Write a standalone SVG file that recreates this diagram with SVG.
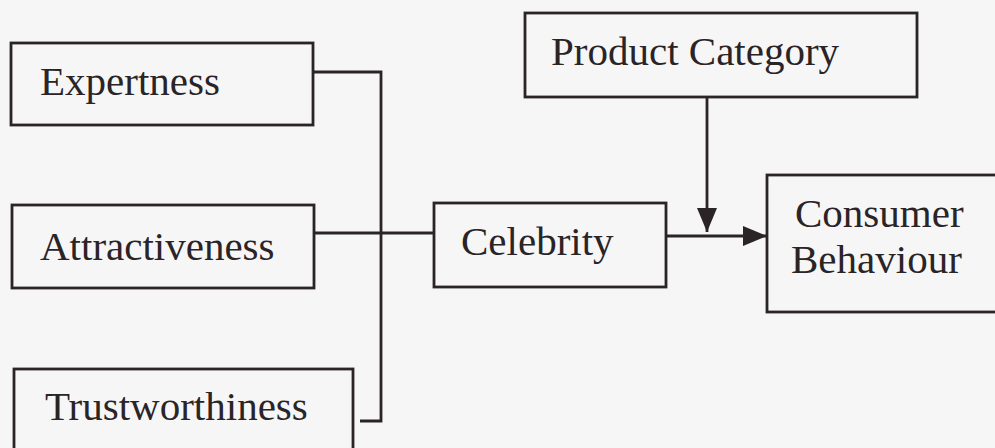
<svg xmlns="http://www.w3.org/2000/svg" width="995" height="448" viewBox="0 0 995 448">
  <defs>
    <style>
      .box { fill: none; stroke: #2a2427; stroke-width: 2.8; }
      .lbl { font-family: "Liberation Serif", "Times New Roman", serif; font-size: 41px; fill: #2a2427; }
      .con { fill: none; stroke: #2a2427; stroke-width: 2.8; }
    </style>
    <marker id="arr" viewBox="0 0 24 20" refX="24" refY="10" markerWidth="24" markerHeight="20" markerUnits="userSpaceOnUse" orient="auto">
      <path d="M0,0 L24,10 L0,20 Z" fill="#2a2427"/>
    </marker>
  </defs>
  <rect width="995" height="448" fill="#f6f6f6"/>

  <g id="expertness">
    <rect class="box" x="11" y="43" width="302" height="82"/>
    <text class="lbl" x="40" y="95">Expertness</text>
  </g>
  <g id="attractiveness">
    <rect class="box" x="12" y="205" width="302" height="83"/>
    <text class="lbl" x="40" y="260">Attractiveness</text>
  </g>
  <g id="trustworthiness">
    <rect class="box" x="14" y="369" width="339" height="100"/>
    <text class="lbl" x="45" y="420">Trustworthiness</text>
  </g>
  <g id="product-category">
    <rect class="box" x="525" y="13" width="392" height="84"/>
    <text class="lbl" x="551" y="65">Product Category</text>
  </g>
  <g id="celebrity">
    <rect class="box" x="434" y="203" width="232" height="84"/>
    <text class="lbl" x="461" y="255">Celebrity</text>
  </g>
  <g id="consumer-behaviour">
    <rect class="box" x="767" y="175" width="240" height="137"/>
    <text class="lbl" x="795" y="227">Consumer</text>
    <text class="lbl" x="791" y="273">Behaviour</text>
  </g>

  <g id="connectors">
    <polyline class="con" points="313,72 381,72 381,421 360,421"/>
    <line class="con" x1="314" y1="233" x2="434" y2="233"/>
    <line class="con" x1="707" y1="97" x2="707" y2="232" marker-end="url(#arr)"/>
    <line class="con" x1="666" y1="236" x2="767" y2="236" marker-end="url(#arr)"/>
  </g>
</svg>
